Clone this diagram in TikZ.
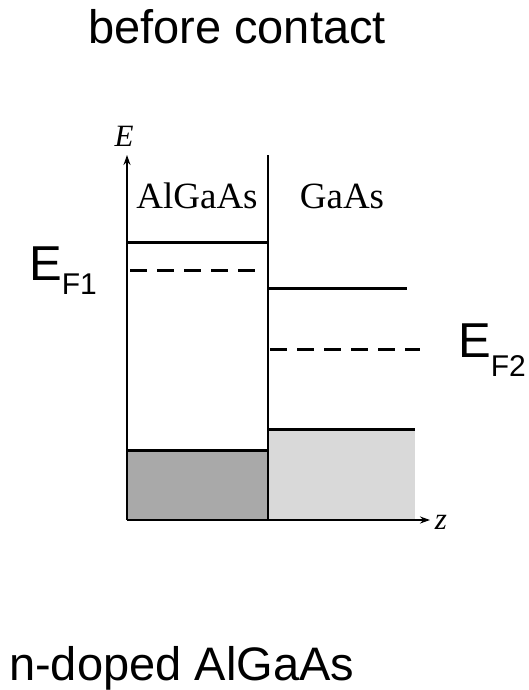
\documentclass[tikz,border=0pt]{standalone}
\usepackage{fontspec}
\setmainfont{Liberation Sans}
\newfontfamily\scanfont{Liberation Serif}
\usepackage{xcolor}
\usetikzlibrary{arrows.meta, positioning}

\definecolor{darkfill}{HTML}{A9A9A9}
\definecolor{lightfill}{HTML}{D9D9D9}

\begin{document}
\begin{tikzpicture}[
    x=1pt, y=-1pt,
    axis/.style={line width=2pt, -{Stealth[length=10pt, width=7pt]}},
    band/.style={line width=3pt},
    fermi/.style={line width=3pt, dash pattern=on 17pt off 10pt},
    caption/.style={font=\fontsize{47}{50}\selectfont, inner sep=0pt},
    level/.style={font=\fontsize{49}{52}\selectfont, inner sep=0pt},
    material/.style={font=\scanfont\fontsize{37}{39}\selectfont, inner sep=0pt},
    axlabel/.style={font=\scanfont\itshape\fontsize{31}{32}\selectfont, inner sep=0pt}
]
\useasboundingbox (0,0) rectangle (529,690);

% filled valence bands
\fill[darkfill] (127,450) rectangle (268,520);
\fill[lightfill] (268,429) rectangle (415,520);

% axes and interface
\coordinate (origin) at (127,520);
\coordinate (etop) at (127,155);
\coordinate (zend) at (430,520);
\draw[axis] (origin) -- (etop);
\draw[axis] (origin) -- (zend);
\coordinate (itop) at (268,155);
\coordinate (ibot) at (268,520);
\draw[line width=2pt] (itop) -- (ibot);

% band edges
\coordinate (cbA1) at (127,242);
\coordinate (cbA2) at (268,242);
\coordinate (cbG1) at (268,288);
\coordinate (cbG2) at (407,288);
\coordinate (vbA1) at (127,450);
\coordinate (vbA2) at (268,450);
\coordinate (vbG1) at (268,429);
\coordinate (vbG2) at (415,429);
\draw[band] (cbA1) -- (cbA2);
\draw[band] (cbG1) -- (cbG2);
\draw[band] (vbA1) -- (vbA2);
\draw[band] (vbG1) -- (vbG2);

% Fermi levels
\coordinate (efA1) at (130,270);
\coordinate (efA2) at (260,270);
\coordinate (efG1) at (270,349);
\coordinate (efG2) at (420,349);
\draw[fermi] (efA1) -- (efA2);
\draw[fermi] (efG1) -- (efG2);

% labels
\node[caption] (title) at (237,27) {before contact};
\node[caption, anchor=base west] (doping) at (9,680) {n-doped AlGaAs};
\node[material] (alga) at (197,196) {AlGaAs};
\node[material] (gaas) at (342,196) {GaAs};
\node[axlabel] (elabel) at (124,136) {E};
\node[axlabel] (zlabel) at (441,522) {z};
\node[level, anchor=base west] (ef1) at (29,280)
    {E\raisebox{-14pt}{\fontsize{30}{30}\selectfont F1}};
\node[level, anchor=base west] (ef2) at (458,357)
    {E\raisebox{-19pt}{\fontsize{30}{30}\selectfont F2}};

\end{tikzpicture}
\end{document}
